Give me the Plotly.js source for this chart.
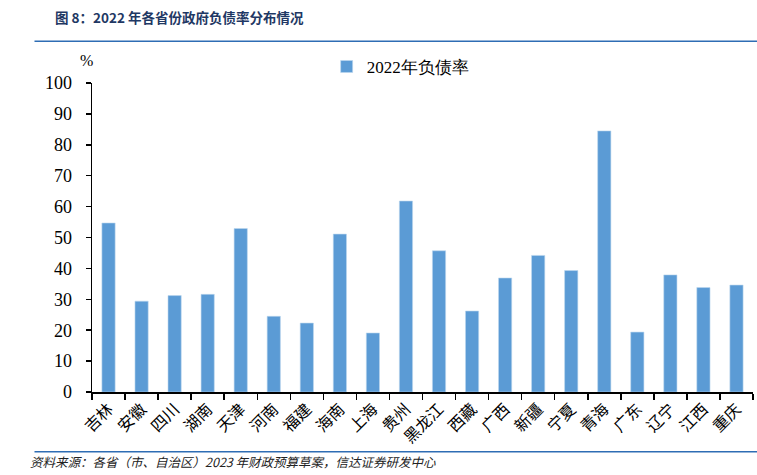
<!DOCTYPE html>
<html>
<head>
<meta charset="utf-8">
<script src="https://cdn.plot.ly/plotly-3.0.1.min.js"></script>
<style>html,body{margin:0;padding:0;background:#fff;}#chart{width:757px;height:475px;}</style>
</head>
<body>
<div id="chart"></div>
<script>
var provinces = ["吉林","安徽","四川","湖南","天津","河南","福建","海南","上海","贵州","黑龙江","西藏","广西","新疆","宁夏","青海","广东","辽宁","江西","重庆"];
var debtRatio2022 = [54.7,29.4,31.2,31.6,52.9,24.5,22.3,51.1,19.1,61.8,45.7,26.2,36.9,44.2,39.3,84.5,19.4,37.9,33.8,34.6];
var seriesName = "2022年负债率";
var yTicks = [0,10,20,30,40,50,60,70,80,90,100];

var serif = "Times New Roman, Liberation Serif, serif";
var cjk = "Noto Sans CJK SC";

var trace = {
  type: "bar",
  x: provinces,
  y: debtRatio2022,
  name: seriesName,
  marker: {color: "#5B9BD5", line: {color: "#BDD7EE", width: 0.6}},
  showlegend: true
};

var layout = {
  width: 757, height: 475,
  margin: {l: 92, r: 4, t: 83, b: 83},
  paper_bgcolor: "#fff", plot_bgcolor: "#fff",
  bargap: 0.6,
  showlegend: true,
  legend: {orientation: "h", x: 0.355, xanchor: "left", y: 1.052, yanchor: "middle",
           font: {family: serif, size: 17, color: "#000"}, bgcolor: "rgba(0,0,0,0)",
           itemwidth: 30},
  xaxis: {
    type: "category", tickson: "boundaries", ticks: "outside", ticklen: 6, tickcolor: "#000", tickwidth: 1.5,
    showline: true, linecolor: "#000", linewidth: 1.5, showgrid: false, zeroline: false,
    tickangle: -45, tickfont: {family: cjk, size: 16, color: "#000"}
  },
  yaxis: {
    range: [0, 100], tickvals: yTicks, ticks: "outside", ticklen: 5, tickcolor: "#000", tickwidth: 1.5,
    showline: true, linecolor: "#000", linewidth: 1.5, showgrid: false, zeroline: false,
    tickfont: {family: serif, size: 18, color: "#000"}, ticklabelstandoff: 10
  },
  shapes: [
    {type: "line", xref: "paper", yref: "paper", x0: -0.087, x1: 1.01, y0: 1.0 + (83-41)/310, y1: 1.0 + (83-41)/310,
     line: {color: "#2E6DB4", width: 1.5}},
    {type: "line", xref: "paper", yref: "paper", x0: -0.087, x1: 1.01, y0: -(452-392)/310, y1: -(452-392)/310,
     line: {color: "#2E6DB4", width: 1.5}}
  ],
  annotations: [
    {text: "<b>图 8：2022 年各省份政府负债率分布情况</b>", xref: "paper", yref: "paper",
     x: -0.071 + 8/661, y: 1.0 + (83-17)/310, xanchor: "left", yanchor: "middle", showarrow: false,
     font: {family: cjk, size: 13.5, color: "#1F3864"}},
    {text: "%", xref: "paper", yref: "paper", x: -0.008, y: 1.0 + (83-60)/310, xanchor: "center", yanchor: "middle",
     showarrow: false, font: {family: serif, size: 16, color: "#000"}},
    {text: "<i>资料来源：各省（市、自治区）2023 年财政预算草案，信达证券研发中心</i>", xref: "paper", yref: "paper",
     x: -(92-28)/661, y: -(462-392)/310, xanchor: "left", yanchor: "middle", showarrow: false,
     font: {family: cjk, size: 12.5, color: "#222"}}
  ]
};

Plotly.newPlot("chart", [trace], layout, {staticPlot: true, displayModeBar: false});
</script>
</body>
</html>
